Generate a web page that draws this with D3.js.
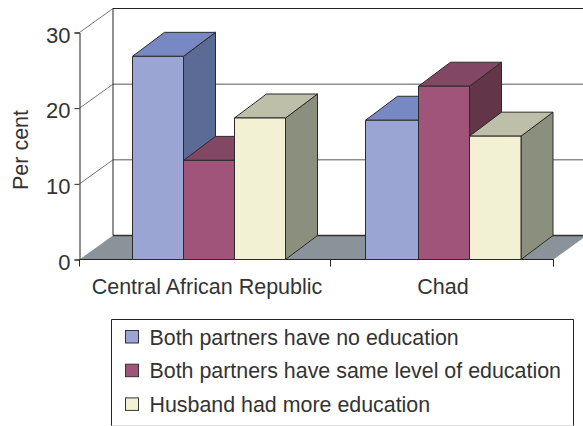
<!DOCTYPE html>
<html>
<head>
<meta charset="utf-8">
<script src="https://cdn.jsdelivr.net/npm/d3@7"></script>
<style>
  html, body { margin: 0; padding: 0; background: #fff; }
  text { font-family: "Liberation Sans", Arial, sans-serif; fill: #333; }
</style>
</head>
<body>
<div id="chart"></div>
<script>
// values
var categories = ["Central African Republic", "Chad"];
var seriesNames = ["Both partners have no education", "Both partners have same level of education", "Husband had more education"];
var noEducation = [26.85, 18.4];
var sameLevel = [13.1, 22.9];
var husbandMore = [18.7, 16.3];
var yTicks = [0, 10, 20, 30];

var seriesValues = [noEducation, sameLevel, husbandMore];

// front, top and side colours for each series
var frontColors = ["#9aa5d3", "#a0547a", "#f3f1d3"];
var topColors = ["#7888c2", "#824763", "#bdbfa8"];
var sideColors = ["#5b6b96", "#623549", "#8b8f7e"];

var width = 583, height = 426;
var depthX = 33.5, depthY = 24;
var barDepthX = 32;

var svg = d3.select("#chart").append("svg")
    .attr("width", width)
    .attr("height", height)
    .style("display", "block");

var y = d3.scaleLinear().domain([0, 30]).range([259.5, 32.5]);

// the picture does not space its groups evenly, so each group has its own bar edges
var barEdges = d3.scaleOrdinal()
    .domain(categories)
    .range([[132.5, 183.5, 234.5, 285.5], [365.5, 418.5, 469.5, 521]]);
var xTickAt = [79.5, 330.5, 553.5];
var labelAt = d3.scaleOrdinal().domain(categories).range([207, 443]);

function pts(list) {
  return list.map(function(p) { return p.join(","); }).join(" ");
}

// floor
svg.append("polygon")
    .attr("points", pts([[xTickAt[0], y(0)], [xTickAt[0] + depthX, y(0) - depthY], [xTickAt[2] + depthX, y(0) - depthY], [xTickAt[2], y(0)]]))
    .attr("fill", "#8a9399");
svg.append("line")
    .attr("x1", xTickAt[0] + depthX).attr("x2", width)
    .attr("y1", y(0) - depthY).attr("y2", y(0) - depthY)
    .attr("stroke", "#333").attr("stroke-width", 1.5);

// back wall and gridlines
svg.selectAll(".grid")
    .data(yTicks.slice(1))
    .enter().append("line")
    .attr("class", "grid")
    .attr("x1", xTickAt[0] + depthX).attr("x2", width)
    .attr("y1", function(d) { return y(d) - depthY; })
    .attr("y2", function(d) { return y(d) - depthY; })
    .attr("stroke", function(d) { return d === 30 ? "#222" : "#555"; });
svg.selectAll(".diag")
    .data(yTicks.slice(1))
    .enter().append("line")
    .attr("class", "diag")
    .attr("x1", xTickAt[0]).attr("x2", xTickAt[0] + depthX)
    .attr("y1", function(d) { return y(d); })
    .attr("y2", function(d) { return y(d) - depthY; })
    .attr("stroke", "#777");
svg.append("line")
    .attr("x1", xTickAt[0] + depthX).attr("x2", xTickAt[0] + depthX)
    .attr("y1", y(30) - depthY).attr("y2", y(0) - depthY)
    .attr("stroke", "#222");

// axes
var yAxis = svg.append("g")
    .attr("transform", "translate(" + xTickAt[0] + ",0)")
    .call(d3.axisLeft(y).tickValues(yTicks).tickSize(5).tickPadding(4));
yAxis.selectAll("path, line").attr("stroke", "#222");
yAxis.selectAll("text").style("font-size", "22px").attr("dy", "0.44em");

svg.append("line")
    .attr("x1", xTickAt[0]).attr("x2", xTickAt[2])
    .attr("y1", y(0)).attr("y2", y(0))
    .attr("stroke", "#222");
svg.selectAll(".xtick")
    .data(xTickAt)
    .enter().append("line")
    .attr("class", "xtick")
    .attr("x1", function(d) { return d; }).attr("x2", function(d) { return d; })
    .attr("y1", y(0)).attr("y2", y(0) + 7)
    .attr("stroke", "#222");

// bars, drawn back to front within each group
categories.forEach(function(cat, c) {
  seriesValues.forEach(function(values, s) {
    var edges = barEdges(cat);
    var x0 = edges[s], x1 = edges[s + 1], top = y(values[c]), base = y(0);
    var g = svg.append("g").attr("stroke", "#2b2b2b").attr("stroke-width", 1).attr("stroke-linejoin", "round");
    g.append("polygon")
        .attr("points", pts([[x1, top], [x1 + barDepthX, top - depthY], [x1 + barDepthX, base - depthY], [x1, base]]))
        .attr("fill", sideColors[s]);
    g.append("polygon")
        .attr("points", pts([[x0, top], [x0 + barDepthX, top - depthY], [x1 + barDepthX, top - depthY], [x1, top]]))
        .attr("fill", topColors[s]);
    g.append("rect")
        .attr("x", x0).attr("y", top)
        .attr("width", x1 - x0).attr("height", base - top)
        .attr("fill", frontColors[s]);
  });
});

// category labels
svg.selectAll(".cat")
    .data(categories)
    .enter().append("text")
    .attr("class", "cat")
    .attr("x", function(d) { return labelAt(d); })
    .attr("y", 294)
    .attr("text-anchor", "middle")
    .style("font-size", "21.5px")
    .text(function(d) { return d; });

// y title
svg.append("text")
    .attr("transform", "translate(27.5,150) rotate(-90)")
    .attr("text-anchor", "middle")
    .style("font-size", "21.5px")
    .text("Per cent");

// legend
svg.append("path")
    .attr("d", "M111.5,426V319.5H573.5V426")
    .attr("fill", "none")
    .attr("stroke", "#222");
svg.append("line")
    .attr("x1", 111.5).attr("x2", 573.5)
    .attr("y1", 425.5).attr("y2", 425.5)
    .attr("stroke", "#ddd");

var legend = svg.selectAll(".legend")
    .data(seriesNames)
    .enter().append("g")
    .attr("class", "legend")
    .attr("transform", function(d, i) { return "translate(0," + (337 + i * 33.7) + ")"; });
legend.append("rect")
    .attr("x", 125.5).attr("y", -6.5)
    .attr("width", 13).attr("height", 12.5)
    .attr("fill", function(d, i) { return frontColors[i]; })
    .attr("stroke", "#333");
legend.append("text")
    .attr("x", 149.5).attr("y", 7.5)
    .style("font-size", "21.4px")
    .text(function(d) { return d; });
</script>
</body>
</html>
